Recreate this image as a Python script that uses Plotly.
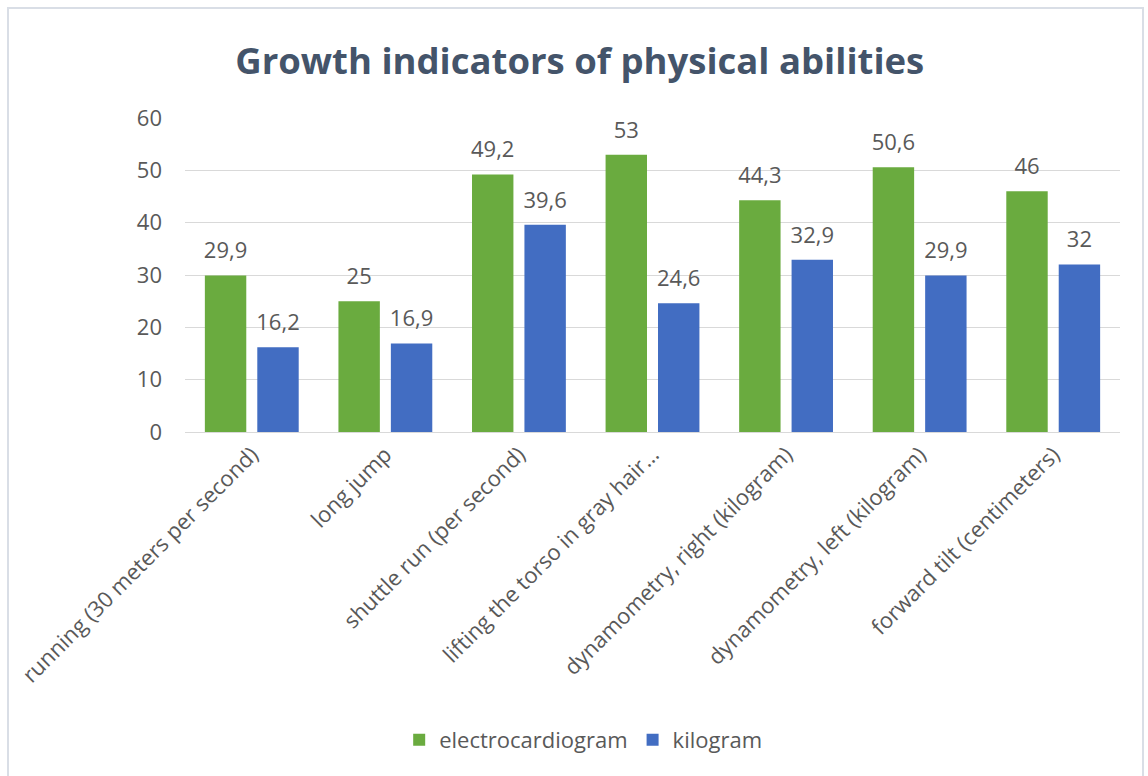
import plotly.graph_objects as go

categories = [
    "running (30 meters per second)",
    "long jump",
    "shuttle run (per second)",
    "lifting the torso in gray hair…",
    "dynamometry, right (kilogram)",
    "dynamometry, left (kilogram)",
    "forward tilt (centimeters)",
]
ecg_values = [29.9, 25, 49.2, 53, 44.3, 50.6, 46]
kg_values = [16.2, 16.9, 39.6, 24.6, 32.9, 29.9, 32]
series_names = ["electrocardiogram", "kilogram"]
series_colors = ["#6AAB3F", "#426DC2"]
y_ticks = [0, 10, 20, 30, 40, 50, 60]

FONT = "Open Sans"
TXT = "#595959"
GAP = 0.215

L, R, T, B = 185, 28, 118, 344
PW = 1148 - L - R
PH = 776 - T - B


def fmt(v):
    return ("%g" % v).replace(".", ",")


fig = go.Figure()
for i, (name, vals, col) in enumerate(zip(series_names, [ecg_values, kg_values], series_colors)):
    fig.add_trace(go.Bar(
        x=categories, y=vals, name=name, offsetgroup=str(i),
        marker=dict(color=col, line=dict(width=0)),
    ))
for i, vals in enumerate([ecg_values, kg_values]):
    fig.add_trace(go.Scatter(
        x=categories, y=vals, mode="markers+text", offsetgroup=str(i),
        text=[fmt(v) for v in vals], textposition="top center",
        textfont=dict(size=22, color=TXT, family=FONT),
        marker=dict(size=17, opacity=0, color="white"),
        showlegend=False, hoverinfo="skip", cliponaxis=False,
    ))

fig.update_layout(
    width=1148, height=776,
    margin=dict(l=L, r=R, t=T, b=B),
    paper_bgcolor="white", plot_bgcolor="white",
    font=dict(family=FONT, color=TXT, size=20),
    barmode="group", bargap=GAP, bargroupgap=0.21,
    scattermode="group", scattergap=GAP,
    title=dict(text="<b>Growth indicators of physical abilities</b>",
               x=0.505, xref="container", xanchor="center",
               y=1 - 61 / 776, yref="container", yanchor="middle",
               font=dict(size=36.5, color="#44546A", family=FONT)),
    legend=dict(orientation="h", x=0.508, xref="container", xanchor="center",
                y=1 - 740 / 776, yref="container", yanchor="middle",
                font=dict(size=22, color=TXT, family=FONT),
                itemwidth=30, tracegroupgap=0),
    showlegend=True,
)
fig.update_xaxes(tickangle=-45, tickfont=dict(size=22, color=TXT, family=FONT),
                 showline=True, linecolor="#D9D9D9", linewidth=1,
                 showgrid=False, ticks="")
fig.update_yaxes(range=[0, 60], tickvals=y_ticks, ticktext=[str(t) for t in y_ticks],
                 tickfont=dict(size=22, color=TXT, family=FONT),
                 showgrid=True, gridcolor="#D9D9D9", gridwidth=1,
                 zeroline=False, showline=False, ticks="", ticklabelstandoff=22)

fig.add_shape(type="rect", xref="paper", yref="paper",
              x0=(8 - L) / PW, x1=(1143 - L) / PW,
              y0=-(790 - (T + PH)) / PH, y1=(776 - B - 8) / PH,
              line=dict(color="#D9DEE6", width=2), layer="below")

fig.write_html("out.html", config={"displayModeBar": False},
               post_script="document.body.style.margin='0';")
